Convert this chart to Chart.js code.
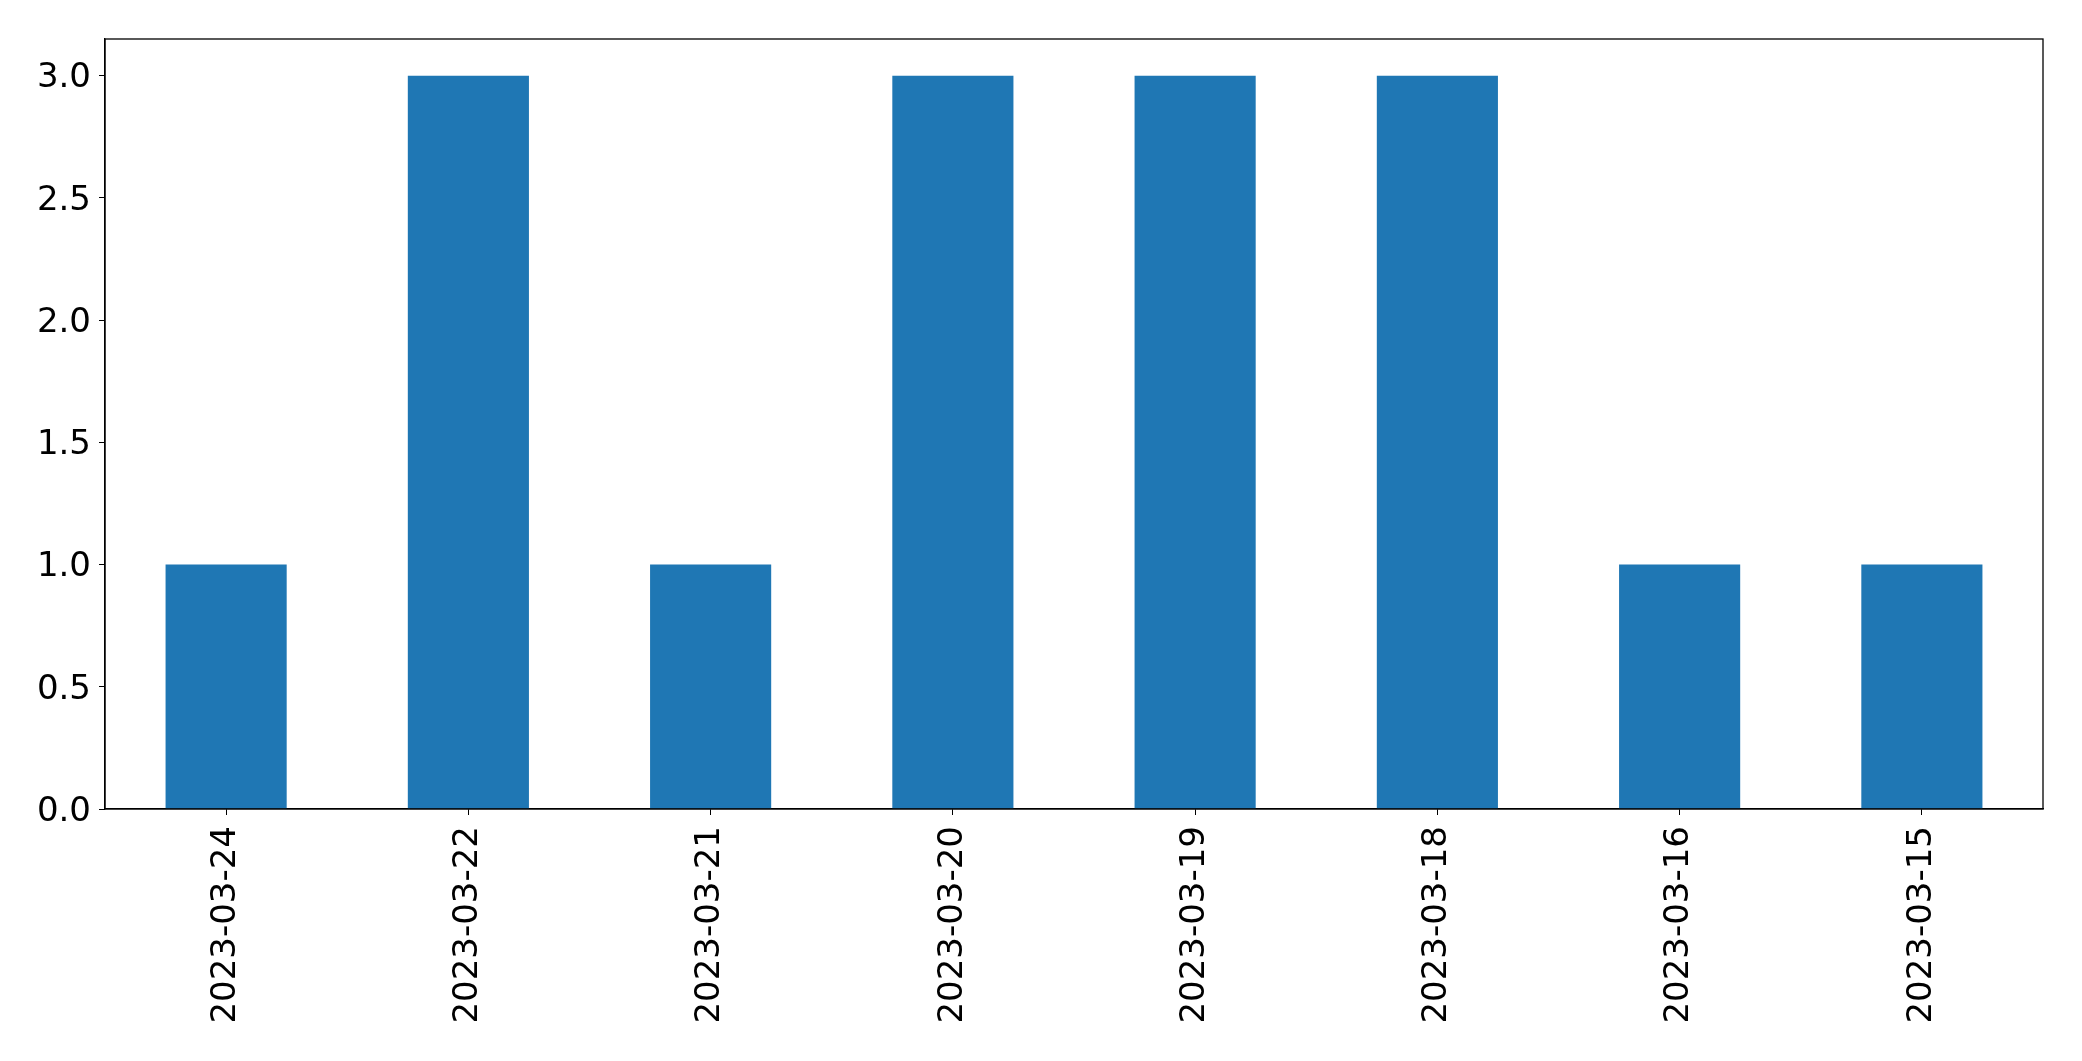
<!DOCTYPE html>
<html lang="en">
  <head>
    <meta charset="UTF-8" />
    <title>counts per day</title>
    <script src="https://cdn.jsdelivr.net/npm/chart.js@4.4.0/dist/chart.umd.min.js"></script>
    <style>
      body {
        margin: 0;
        padding: 0;
        background: white;
      }
      canvas {
        display: block;
      }
    </style>
  </head>
  <body>
    <canvas id="chart" width="2082" height="1061"></canvas>
    <script>
      const dates = ['2023-03-24', '2023-03-22', '2023-03-21', '2023-03-20', '2023-03-19', '2023-03-18', '2023-03-16', '2023-03-15']
      const counts = [1, 3, 1, 3, 3, 3, 1, 1]
      const yTicks = [0, 0.5, 1, 1.5, 2, 2.5, 3]

      const font = { family: 'DejaVu Sans', size: 34 }

      // matplotlib-like box around the axes
      const frame = {
        id: 'frame',
        afterDraw(chart) {
          const { ctx, chartArea: a } = chart
          ctx.save()
          ctx.strokeStyle = '#000'
          ctx.lineWidth = 1.3
          ctx.strokeRect(a.left, a.top, a.right - a.left, a.bottom - a.top)
          ctx.restore()
        },
      }

      new Chart(document.getElementById('chart'), {
        type: 'bar',
        data: {
          labels: dates,
          datasets: [
            {
              data: counts,
              backgroundColor: '#1f77b4',
              borderWidth: 0,
              categoryPercentage: 1,
              barPercentage: 0.5,
            },
          ],
        },
        options: {
          responsive: false,
          animation: false,
          layout: { padding: { top: 39, right: 39, left: 0, bottom: 0 } },
          plugins: {
            legend: { display: false },
            tooltip: { enabled: false },
          },
          scales: {
            x: {
              offset: true,
              afterFit: (s) => { s.height = 252 },
              grid: {
                display: true,
                drawOnChartArea: false,
                drawTicks: true,
                tickLength: 6,
                color: '#000',
                offset: false,
              },
              border: { display: true, color: '#000', width: 1.3 },
              ticks: {
                font,
                color: '#000',
                minRotation: 90,
                maxRotation: 90,
                padding: 11,
                autoSkip: false,
              },
            },
            y: {
              min: 0,
              max: 3.15,
              afterFit: (s) => { s.width = 105 },
              afterBuildTicks: (s) => {
                s.ticks = yTicks.map((v) => ({ value: v }))
              },
              grid: {
                display: true,
                drawOnChartArea: false,
                drawTicks: true,
                tickLength: 6,
                color: '#000',
              },
              border: { display: true, color: '#000', width: 1.3 },
              ticks: {
                font,
                color: '#000',
                padding: 8,
                labelOffset: 3,
                callback: (v) => Number(v).toFixed(1),
              },
            },
          },
        },
        plugins: [frame],
      })
    </script>
  </body>
</html>
